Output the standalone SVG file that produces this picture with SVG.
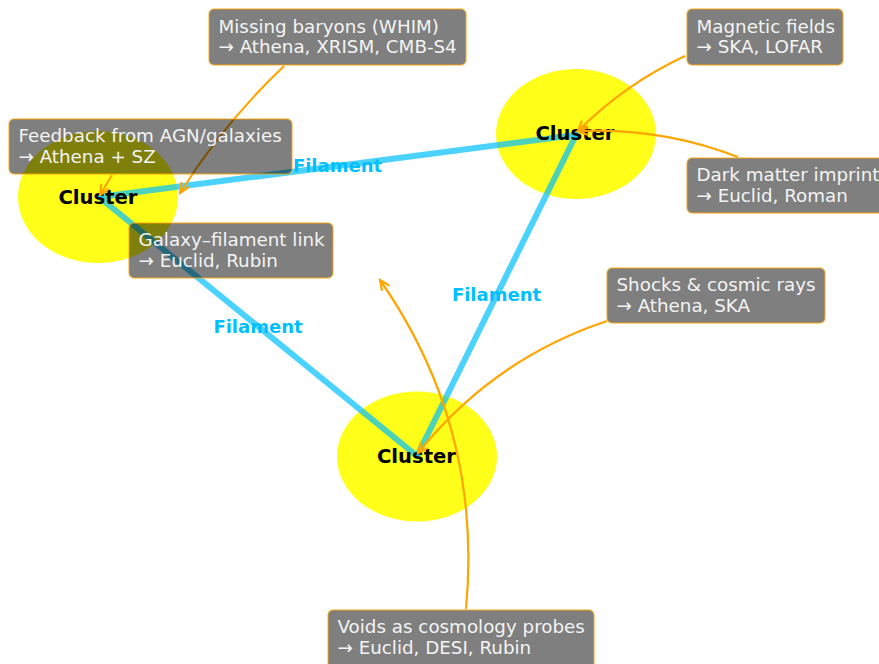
<svg xmlns="http://www.w3.org/2000/svg" width="879" height="664" viewBox="0 0 879 664">
<style>
.cl{fill:#ffff00;fill-opacity:0.9}
.fil{stroke:#00bfff;stroke-opacity:0.7;stroke-width:6;stroke-linecap:round;fill:none}
.flab{font-family:"DejaVu Sans",sans-serif;font-weight:bold;font-size:18px;fill:#00bfff;text-anchor:middle}
.clab{font-family:"DejaVu Sans",sans-serif;font-weight:bold;font-size:19.6px;fill:#000;text-anchor:middle}
.arr{stroke:#ffa500;stroke-width:2.2;fill:none;marker-end:url(#ah)}
.box{fill:#000;fill-opacity:0.5;stroke:#ffa500;stroke-opacity:0.6;stroke-width:1.5}
.bt{font-family:"DejaVu Sans",sans-serif;font-size:18.3px;fill:#f4f4f4}
</style>
<defs>
<marker id="ah" viewBox="-12 -6 14 12" refX="0" refY="0" markerWidth="14" markerHeight="12" markerUnits="userSpaceOnUse" orient="auto">
<path d="M-10,-4.5 L0,0 L-10,4.5" fill="none" stroke="#ffa500" stroke-width="2.2"/>
</marker>
</defs>
<g id="clusters">
<g id="cluster-left"><ellipse class="cl" cx="98" cy="197" rx="80" ry="66"/></g>
<g id="cluster-topright"><ellipse class="cl" cx="576" cy="134" rx="80" ry="65"/></g>
<g id="cluster-bottom"><ellipse class="cl" cx="417" cy="456.5" rx="80" ry="65"/></g>
</g>
<g id="connectors">
<g id="filaments">
<line class="fil" x1="99" y1="197" x2="576" y2="135"/>
<line class="fil" x1="576" y1="135" x2="417" y2="456"/>
<line class="fil" x1="99" y1="197" x2="417" y2="456"/>
</g>
<text class="flab" x="337.5" y="172">Filament</text>
<text class="flab" x="496.5" y="301">Filament</text>
<text class="flab" x="258" y="333">Filament</text>
</g>
<g id="cluster-labels">
<text class="clab" x="98" y="204">Cluster</text>
<text class="clab" x="575" y="140">Cluster</text>
<text class="clab" x="416.5" y="463">Cluster</text>
</g>
<g id="arrows">
<path class="arr" d="M284,66 Q224,123 180,193"/>
<path class="arr" d="M112,175 L100,195"/>
<path class="arr" d="M685,56 Q625,84 578,131"/>
<path class="arr" d="M738,157 Q661,127 578,131"/>
<path class="arr" d="M607,321 Q493,359 418,453"/>
<path class="arr" d="M466,609 Q483,428 380,280"/>
</g>
<g id="box-missing-baryons">
<rect class="box" x="209" y="9" width="257" height="56" rx="5"/>
<text class="bt" x="218.5" y="32.5">Missing baryons (WHIM)</text>
<text class="bt" x="218.5" y="53">→ Athena, XRISM, CMB-S4</text>
</g>
<g id="box-feedback">
<rect class="box" x="9" y="119" width="283" height="55" rx="5"/>
<text class="bt" x="18.5" y="142">Feedback from AGN/galaxies</text>
<text class="bt" x="18.5" y="162.5">→ Athena + SZ</text>
</g>
<g id="box-galaxy-filament">
<rect class="box" x="129" y="223" width="204" height="55" rx="5"/>
<text class="bt" x="138.5" y="246">Galaxy–filament link</text>
<text class="bt" x="138.5" y="266.5">→ Euclid, Rubin</text>
</g>
<g id="box-magnetic">
<rect class="box" x="687" y="9" width="156" height="56" rx="5"/>
<text class="bt" x="696.5" y="32.5">Magnetic fields</text>
<text class="bt" x="696.5" y="53">→ SKA, LOFAR</text>
</g>
<g id="box-dark-matter">
<rect class="box" x="687" y="158" width="210" height="55" rx="5"/>
<text class="bt" x="696.5" y="181">Dark matter imprint</text>
<text class="bt" x="696.5" y="201.5">→ Euclid, Roman</text>
</g>
<g id="box-shocks">
<rect class="box" x="607" y="268" width="218" height="55" rx="5"/>
<text class="bt" x="616.5" y="291">Shocks &amp; cosmic rays</text>
<text class="bt" x="616.5" y="311.5">→ Athena, SKA</text>
</g>
<g id="box-voids">
<rect class="box" x="328" y="610" width="266" height="62" rx="5"/>
<text class="bt" x="337.5" y="633">Voids as cosmology probes</text>
<text class="bt" x="337.5" y="653.5">→ Euclid, DESI, Rubin</text>
</g>
</svg>
